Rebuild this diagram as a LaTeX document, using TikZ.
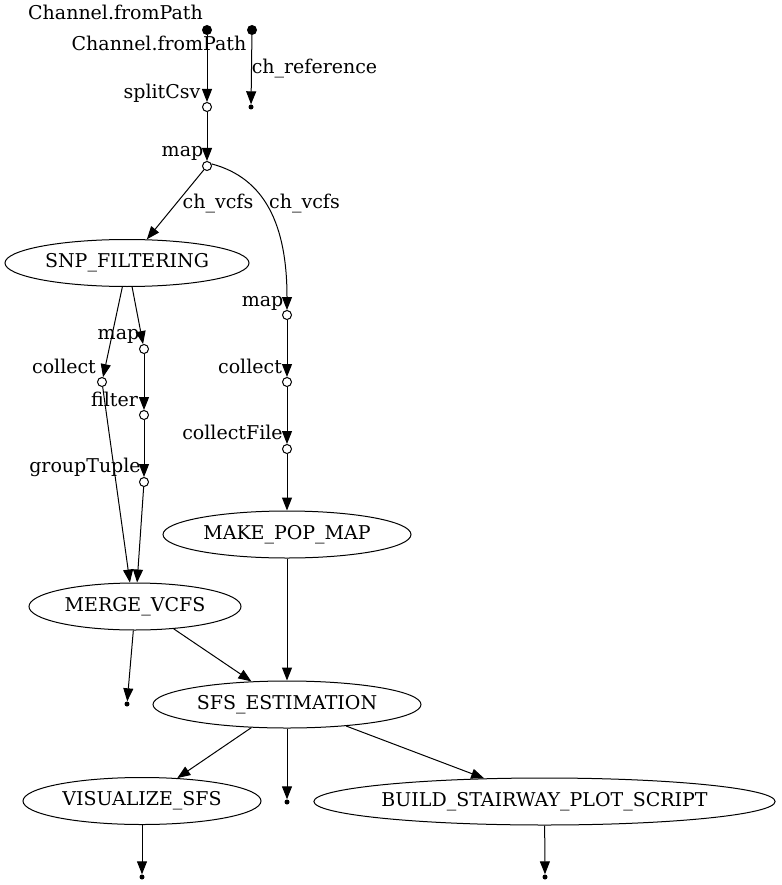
\documentclass[tikz,border=0pt]{standalone}
\usepackage{fontspec}
\setmainfont{DejaVu Serif}
\usetikzlibrary{arrows.meta,shapes.geometric}
\begin{document}
\begin{tikzpicture}[x=1pt,y=-1pt,
  every node/.style={font=\fontsize{19}{22}\selectfont},
  lbl/.style={inner sep=0pt,anchor=base},
  proc/.style={draw,ellipse,line width=1pt,inner sep=0pt,minimum height=47pt},
  src/.style={circle,fill=black,inner sep=0pt,minimum size=10pt},
  op/.style={circle,draw,fill=white,line width=1pt,inner sep=0pt,minimum size=9pt},
  endp/.style={circle,fill=black,inner sep=0pt,minimum size=5pt},
  conn/.style={line width=1pt,-{Triangle[length=13pt,width=10pt]}}
]
\useasboundingbox (0,0) rectangle (781,885);
% nodes
\node[src] (s1) at (207,30) {};
\node[src] (s2) at (252,30) {};
\node[endp] (e0) at (251,107) {};
\node[op] (split) at (207,107) {};
\node[op] (map1) at (207,166) {};
\node[proc,minimum width=244pt] (snp) at (127,263) {SNP\_FILTERING};
\node[op] (map2) at (287,315) {};
\node[op] (coll2) at (287,382) {};
\node[op] (cfile) at (287,449) {};
\node[proc,minimum width=248pt] (pop) at (287,534.5) {MAKE\_POP\_MAP};
\node[op] (map3) at (144,349) {};
\node[op] (coll3) at (102,382) {};
\node[op] (filt) at (144,415) {};
\node[op] (gtup) at (144,482) {};
\node[proc,minimum width=212pt] (merge) at (135,606.5) {MERGE\_VCFS};
\node[endp] (e1) at (127,704) {};
\node[proc,minimum width=268pt] (sfs) at (287,704.5) {SFS\_ESTIMATION};
\node[endp] (e2) at (287,802) {};
\node[proc,minimum width=238pt] (vis) at (142,801) {VISUALIZE\_SFS};
\node[proc,minimum width=461pt] (build) at (544.5,801.5) {BUILD\_STAIRWAY\_PLOT\_SCRIPT};
\node[endp] (e3) at (142,877) {};
\node[endp] (e4) at (545,877) {};
% labels
\node[lbl] (l1) at (115.5,20) {Channel.fromPath};
\node[lbl] (l2) at (159,51) {Channel.fromPath};
\node[lbl] (l3) at (314.5,74) {ch\_reference};
\node[lbl] (l4) at (162,99) {splitCsv};
\node[lbl] (l5) at (182.5,157) {map};
\node[lbl] (l6) at (218,209) {ch\_vcfs};
\node[lbl] (l7) at (304.5,209) {ch\_vcfs};
\node[lbl] (l8) at (262.5,306) {map};
\node[lbl] (l9) at (250,373) {collect};
\node[lbl] (l10) at (232.5,439) {collectFile};
\node[lbl] (l11) at (118.5,339) {map};
\node[lbl] (l12) at (64,373) {collect};
\node[lbl] (l13) at (114.5,406) {filter};
\node[lbl] (l14) at (85,472) {groupTuple};
% connectors
\draw[conn] (s1) -- (split);
\draw[conn] (s2) -- (e0);
\draw[conn] (split) -- (map1);
\draw[conn] (map1) -- (snp.50.2);
\draw[conn] (map1.25) .. controls (265,178) and (287,225) .. (map2);
\draw[conn] (map2) -- (coll2);
\draw[conn] (coll2) -- (cfile);
\draw[conn] (cfile) -- (pop);
\draw[conn] (snp.-78.2) -- (map3);
\draw[conn] (snp.-101.8) -- (coll3);
\draw[conn] (map3) -- (filt);
\draw[conn] (filt) -- (gtup);
\draw[conn] (coll3) -- (merge.102);
\draw[conn] (gtup) -- (merge.85);
\draw[conn] (merge.-94.7) -- (e1);
\draw[conn] (merge.-30.7) -- (sfs.147);
\draw[conn] (pop) -- (sfs);
\draw[conn] (sfs.-147) -- (vis.33.2);
\draw[conn] (sfs) -- (e2);
\draw[conn] (sfs.-20.1) -- (build.159.8);
\draw[conn] (vis) -- (e3);
\draw[conn] (build) -- (e4);
\end{tikzpicture}
\end{document}
